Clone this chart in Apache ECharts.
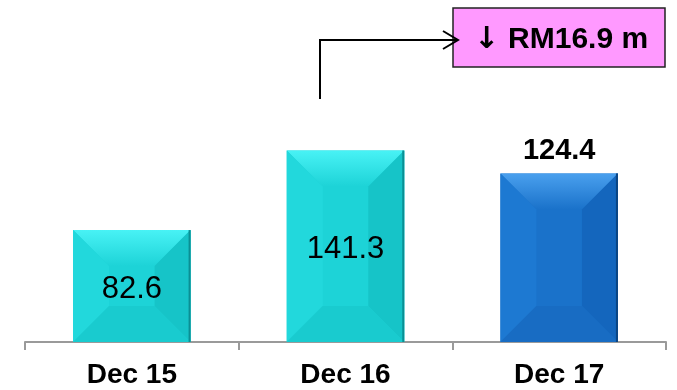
<!DOCTYPE html>
<html>
<head>
<meta charset="utf-8">
<script src="https://cdn.jsdelivr.net/npm/echarts@6/dist/echarts.min.js"></script>
<style>
  html, body { margin: 0; padding: 0; background: #ffffff; }
  #chart { width: 677px; height: 390px; }
</style>
</head>
<body>
<div id="chart"></div>
<script>
// Year-end balances, RM million
const periods = ['Dec 15', 'Dec 16', 'Dec 17'];
const balances = [82.6, 141.3, 124.4];
const changeArrow = '\u2193';
const changeText = 'RM16.9 m';

const FONT = '"Liberation Sans", Arial, sans-serif';

// face colours for bevelled bars: [centre, top(start), left, right, bottom, edge]
const cyanShades = ['#1dd3d7', '#48f2f5', '#22d8dc', '#16c4c8', '#19cbcf', '#0a8f94'];
const blueShades = ['#1a72ca', '#4aa0ee', '#1d79d2', '#1466bd', '#186cc3', '#0b4583'];
const latest = balances.length - 1;

function bevelBar(params, api) {
  const idx = params.dataIndex;
  const val = api.value(1);
  const top = api.coord([api.value(0), val]);
  const base = api.coord([api.value(0), 0]);
  const w = api.size([1, 0])[0] * 0.55;
  const x0 = top[0] - w / 2, x1 = top[0] + w / 2;
  const y0 = top[1], y1 = base[1];
  const h = y1 - y0;
  const b = Math.min(36, w / 3.2, h / 3);
  const c = idx === latest ? blueShades : cyanShades;
  const children = [
    { type: 'rect', shape: { x: x0, y: y0, width: w, height: h }, style: { fill: c[0] } },
    { type: 'polygon', shape: { points: [[x0, y0], [x1, y0], [x1 - b, y0 + b], [x0 + b, y0 + b]] },
      style: { fill: new echarts.graphic.LinearGradient(0, 0, 0, 1, [{ offset: 0, color: c[1] }, { offset: 1, color: c[0] }]) } },
    { type: 'polygon', shape: { points: [[x0, y0], [x0 + b, y0 + b], [x0 + b, y1 - b], [x0, y1]] }, style: { fill: c[2] } },
    { type: 'polygon', shape: { points: [[x1, y0], [x1 - b, y0 + b], [x1 - b, y1 - b], [x1, y1]] }, style: { fill: c[3] } },
    { type: 'polygon', shape: { points: [[x0, y1], [x0 + b, y1 - b], [x1 - b, y1 - b], [x1, y1]] }, style: { fill: c[4] } },
    { type: 'line', shape: { x1: x1 - 1, y1: y0, x2: x1 - 1, y2: y1 }, style: { stroke: c[5], lineWidth: 2 } }
  ];
  // value label: inside for earlier years, bold above for the latest year
  if (idx === latest) {
    children.push({ type: 'text', style: { text: String(val), x: top[0], y: y0 - 8, align: 'center', verticalAlign: 'bottom',
      font: 'bold 29px ' + FONT, fill: '#000' } });
  } else {
    children.push({ type: 'text', style: { text: String(val), x: top[0], y: (y0 + y1) / 2 + 3, align: 'center', verticalAlign: 'middle',
      font: '31px ' + FONT, fill: '#000' } });
  }
  return { type: 'group', children };
}

const chart = echarts.init(document.getElementById('chart'), null, { renderer: 'canvas' });
chart.setOption({
  animation: false,
  grid: { left: 25, right: 11, top: 10, bottom: 48 },
  xAxis: {
    type: 'category',
    data: periods,
    axisLine: { lineStyle: { color: '#9a9a9a', width: 2 } },
    axisTick: { show: true, length: 8, lineStyle: { color: '#9a9a9a', width: 2 } },
    axisLabel: { color: '#000', fontFamily: FONT, fontWeight: 'bold', fontSize: 28, margin: 19 }
  },
  yAxis: { type: 'value', min: 0, max: 245, show: false, splitLine: { show: false } },
  series: [{
    type: 'custom',
    renderItem: bevelBar,
    data: balances.map((v, i) => [i, v]),
    z: 2
  }],
  graphic: [
    // elbow connector leading to the change callout
    { type: 'polyline', shape: { points: [[320, 99], [320, 40], [458, 40]] }, style: { stroke: '#000', lineWidth: 2, fill: null }, z: 10 },
    { type: 'polyline', shape: { points: [[443, 31], [458, 40], [443, 49]] }, style: { stroke: '#000', lineWidth: 2, fill: null }, z: 10 },
    { type: 'rect', shape: { x: 453, y: 8, width: 212, height: 59 }, style: { fill: '#ff99ff', stroke: '#222', lineWidth: 1.5 }, z: 9 },
    { type: 'text', z: 11, style: {
        text: '{a|' + changeArrow + '}{b|' + changeText + '}',
        x: 561, y: 40, align: 'center', verticalAlign: 'middle',
        rich: {
          a: { fontFamily: '"DejaVu Sans"', fontSize: 30, fontWeight: 'bold', fill: '#000', padding: [0, 9, 0, 0] },
          b: { fontFamily: FONT, fontSize: 30, fontWeight: 'bold', fill: '#000' }
        }
    } }
  ]
});
</script>
</body>
</html>
